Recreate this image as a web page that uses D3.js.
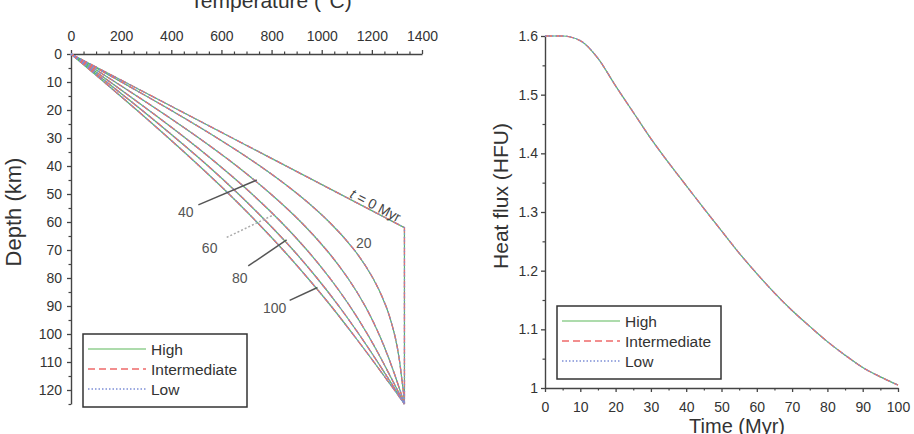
<!DOCTYPE html>
<html>
<head>
<meta charset="utf-8">
<script src="https://cdn.jsdelivr.net/npm/d3@7"></script>
<style>
  body { margin: 0; background: #fff; }
  svg { display: block; font-family: "Liberation Sans", Arial, sans-serif; }
</style>
</head>
<body>
<svg id="chart" width="914" height="434"></svg>
<script>
// geotherms (left panel): temperature (deg C) at each depth (km)
const depths = [0, 10, 20, 30, 40, 50, 60, 70, 80, 90, 100, 110, 115, 120, 125];
const initialDepths = [0, 62, 125];
const initialTemps = [0, 1330, 1330];
const ages = [20, 40, 60, 80, 100];
const temps20 = [0, 201, 397, 583, 754, 904, 1030, 1130, 1204, 1256, 1290, 1311, 1318, 1325, 1330];
const temps40 = [0, 176, 347, 510, 661, 797, 917, 1019, 1104, 1173, 1228, 1273, 1293, 1312, 1330];
const temps60 = [0, 156, 309, 456, 594, 722, 838, 941, 1032, 1112, 1182, 1244, 1273, 1302, 1330];
const temps80 = [0, 142, 282, 417, 547, 668, 781, 886, 981, 1068, 1148, 1223, 1259, 1295, 1330];
const temps100 = [0, 132, 262, 389, 512, 630, 741, 846, 944, 1037, 1124, 1208, 1249, 1290, 1330];

// surface heat flow (right panel)
const times = [0, 5, 10, 15, 20, 25, 30, 35, 40, 45, 50, 55, 60, 65, 70, 75, 80, 85, 90, 95, 100];
const heatFlux = [1.600, 1.600, 1.592, 1.562, 1.515, 1.470, 1.425, 1.384, 1.345, 1.306, 1.268,
  1.230, 1.195, 1.162, 1.132, 1.105, 1.079, 1.056, 1.035, 1.019, 1.005];

const scenarios = ['High', 'Intermediate', 'Low'];
const tempTicks = [0, 200, 400, 600, 800, 1000, 1200, 1400];
const depthTicks = [0, 10, 20, 30, 40, 50, 60, 70, 80, 90, 100, 110, 120];
const timeTicks = [0, 10, 20, 30, 40, 50, 60, 70, 80, 90, 100];
const fluxTicks = [1, 1.1, 1.2, 1.3, 1.4, 1.5, 1.6];

const lineStyle = {
  High: { color: '#5cb85a', dash: null, width: 1.2 },
  Intermediate: { color: '#ee6a6a', dash: '7,4', width: 1.3 },
  Low: { color: '#7d8fd6', dash: '1.5,2', width: 1.3 }
};
const axisColor = '#444';
const textColor = '#333';

const svg = d3.select('#chart');

function styleAxis(g, fontSize) {
  g.select('.domain').attr('stroke', axisColor).attr('stroke-width', 1.4);
  g.selectAll('.tick line').attr('stroke', axisColor).attr('stroke-width', 1.3);
  g.selectAll('.tick text').attr('fill', textColor).style('font-size', fontSize + 'px');
}

function minorAxis(g) {
  g.select('.domain').remove();
  g.selectAll('.tick line').attr('stroke', axisColor).attr('stroke-width', 1.2);
}

function drawLegend(x0, y0) {
  const lg = svg.append('g').attr('transform', `translate(${x0},${y0})`);
  lg.append('rect')
    .attr('width', 164).attr('height', 73)
    .attr('fill', '#fff').attr('stroke', '#333').attr('stroke-width', 1.5);
  scenarios.forEach((s, i) => {
    const st = lineStyle[s];
    const yy = 15 + i * 20;
    lg.append('line')
      .attr('x1', 5).attr('x2', 63).attr('y1', yy).attr('y2', yy)
      .attr('stroke', st.color).attr('stroke-width', st.width)
      .attr('stroke-dasharray', st.dash);
    lg.append('text')
      .attr('x', 68).attr('y', yy + 6)
      .attr('fill', textColor)
      .style('font-size', '15.5px')
      .text(s);
  });
}

// ---------- left panel ----------
const x1 = d3.scaleLinear().domain([0, 1400]).range([71, 422]);
const y1 = d3.scaleLinear().domain([0, 125]).range([54, 404]);

svg.append('g')
  .attr('transform', 'translate(0,54)')
  .call(d3.axisTop(x1).tickValues(tempTicks).tickSize(4).tickSizeOuter(0).tickPadding(9).tickFormat(d3.format('d')))
  .call(g => styleAxis(g, 14));
svg.append('g')
  .attr('transform', 'translate(0,54)')
  .call(d3.axisTop(x1).tickValues(d3.range(50, 1400, 50).filter(v => v % 200 !== 0)).tickSize(2.5).tickFormat(''))
  .call(minorAxis);

svg.append('g')
  .attr('transform', 'translate(71,0)')
  .call(d3.axisLeft(y1).tickValues(depthTicks).tickSize(4).tickSizeOuter(0).tickPadding(5))
  .call(g => styleAxis(g, 14));
svg.append('g')
  .attr('transform', 'translate(71,0)')
  .call(d3.axisLeft(y1).tickValues(d3.range(5, 126, 10)).tickSize(2.5).tickFormat(''))
  .call(minorAxis);

svg.append('text')
  .attr('x', 271).attr('y', 8)
  .attr('text-anchor', 'middle')
  .attr('fill', textColor)
  .style('font-size', '21px')
  .text('Temperature (°C)');

svg.append('text')
  .attr('transform', 'translate(21,212) rotate(-90)')
  .attr('text-anchor', 'middle')
  .attr('fill', textColor)
  .style('font-size', '22px')
  .text('Depth (km)');

const geoLine = d3.line()
  .x(d => x1(d[0]))
  .y(d => y1(d[1]))
  .curve(d3.curveMonotoneY);
const straightLine = d3.line()
  .x(d => x1(d[0]))
  .y(d => y1(d[1]));

const geotherms = [temps20, temps40, temps60, temps80, temps100]
  .map(temps => temps.map((t, i) => [t, depths[i]]));
const initialGeotherm = initialTemps.map((t, i) => [t, initialDepths[i]]);

scenarios.forEach(s => {
  const st = lineStyle[s];
  svg.append('path')
    .datum(initialGeotherm)
    .attr('d', straightLine)
    .attr('fill', 'none')
    .attr('stroke', st.color).attr('stroke-width', st.width)
    .attr('stroke-dasharray', st.dash);
  svg.selectAll(null)
    .data(geotherms)
    .enter()
    .append('path')
    .attr('d', geoLine)
    .attr('fill', 'none')
    .attr('stroke', st.color).attr('stroke-width', st.width)
    .attr('stroke-dasharray', st.dash);
});

// age labels with leader lines (temperature, depth)
const ageLabels = [
  { text: '40', at: [427, 58.2], from: [508, 53.9], to: [741, 45.0], dash: null, color: '#555' },
  { text: '60', at: [522, 71.1], from: [621, 65.5], to: [807, 57.5], dash: '2,2', color: '#aaa' },
  { text: '80', at: [642, 81.8], from: [707, 75.7], to: [860, 66.4], dash: null, color: '#555' },
  { text: '100', at: [766, 92.5], from: [872, 88.0], to: [983, 83.4], dash: null, color: '#555' },
  { text: '20', at: [1137, 69.3] }
];
ageLabels.forEach(a => {
  if (a.from) {
    svg.append('line')
      .attr('x1', x1(a.from[0])).attr('y1', y1(a.from[1]))
      .attr('x2', x1(a.to[0])).attr('y2', y1(a.to[1]))
      .attr('stroke', a.color).attr('stroke-width', 1.5)
      .attr('stroke-dasharray', a.dash);
  }
  svg.append('text')
    .attr('x', x1(a.at[0])).attr('y', y1(a.at[1]))
    .attr('fill', '#555')
    .style('font-size', '14px')
    .text(a.text);
});

const t0 = svg.append('text')
  .attr('transform', `translate(${x1(1109)},${y1(51.1)}) rotate(27.5)`)
  .attr('fill', '#444')
  .style('font-size', '14px');
t0.append('tspan').style('font-style', 'italic').text('t');
t0.append('tspan').text(' = 0 Myr');

drawLegend(83, 334);

// ---------- right panel ----------
const x2 = d3.scaleLinear().domain([0, 100]).range([545, 898]);
const y2 = d3.scaleLinear().domain([1, 1.6]).range([388, 36]);

svg.append('g')
  .attr('transform', 'translate(0,388)')
  .call(d3.axisBottom(x2).tickValues(timeTicks).tickSize(4).tickSizeOuter(0).tickPadding(10))
  .call(g => styleAxis(g, 14));
svg.append('g')
  .attr('transform', 'translate(0,388)')
  .call(d3.axisBottom(x2).tickValues(d3.range(5, 100, 10)).tickSize(2.5).tickFormat(''))
  .call(minorAxis);

svg.append('g')
  .attr('transform', 'translate(545,0)')
  .call(d3.axisLeft(y2).tickValues(fluxTicks).tickSize(4).tickSizeOuter(0).tickPadding(3)
    .tickFormat(d => d === 1 ? '1' : d3.format('.1f')(d)))
  .call(g => styleAxis(g, 14));
svg.append('g')
  .attr('transform', 'translate(545,0)')
  .call(d3.axisLeft(y2).tickValues(d3.range(1.05, 1.6, 0.1)).tickSize(2.5).tickFormat(''))
  .call(minorAxis);

svg.append('text')
  .attr('x', 737).attr('y', 433)
  .attr('text-anchor', 'middle')
  .attr('fill', textColor)
  .style('font-size', '20px')
  .text('Time (Myr)');

svg.append('text')
  .attr('transform', 'translate(508,196) rotate(-90)')
  .attr('text-anchor', 'middle')
  .attr('fill', textColor)
  .style('font-size', '21px')
  .text('Heat flux (HFU)');

const fluxLine = d3.line()
  .x((d, i) => x2(times[i]))
  .y(d => y2(d))
  .curve(d3.curveMonotoneX);

scenarios.forEach(s => {
  const st = lineStyle[s];
  svg.append('path')
    .datum(heatFlux)
    .attr('d', fluxLine)
    .attr('fill', 'none')
    .attr('stroke', st.color).attr('stroke-width', st.width)
    .attr('stroke-dasharray', st.dash);
});

drawLegend(557, 306);
</script>
</body>
</html>
